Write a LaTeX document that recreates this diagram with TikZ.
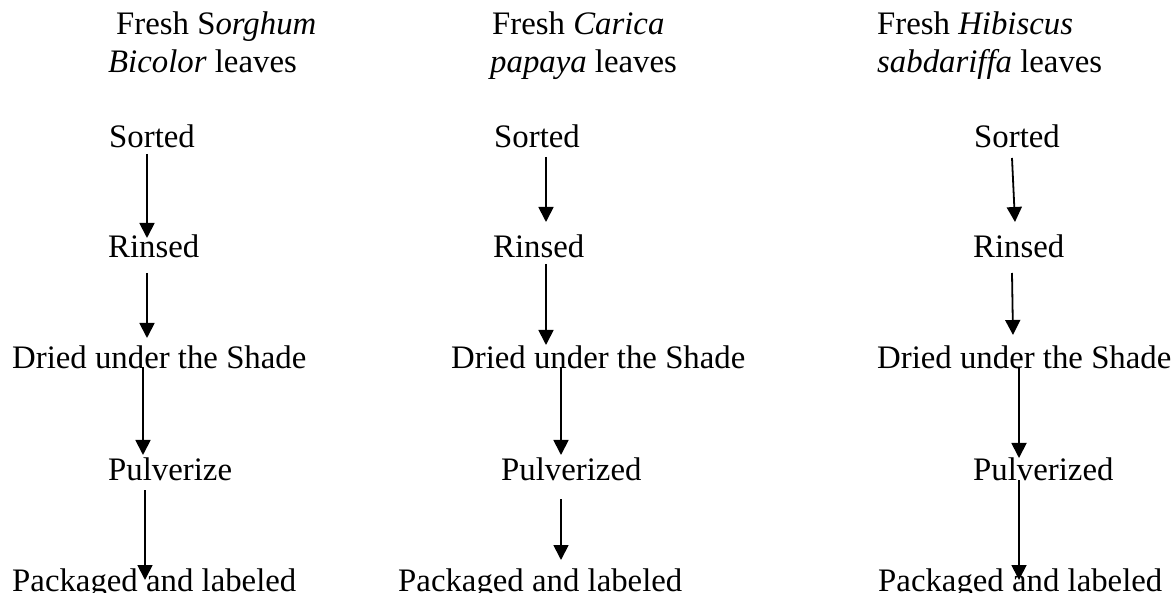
\documentclass[tikz,border=0pt]{standalone}
\usepackage{fontspec}
\setmainfont{Liberation Serif}
\usetikzlibrary{arrows.meta}

\begin{document}
\begin{tikzpicture}[x=1pt, y=-1pt,
    lbl/.style={anchor=base west, inner sep=0pt, font=\fontsize{32.8}{38}\selectfont},
    flow/.style={line width=1.8pt, -{Triangle[width=15pt, length=15pt]}}]
    \useasboundingbox (0,0) rectangle (1173,593);

    % Spalte 1: Sorghum bicolor
    \begin{scope}
        \node[lbl] (h1a) at (116,35) {Fresh S\textit{orghum}};
        \node[lbl] (h1b) at (108,73) {\textit{Bicolor} leaves};
        \node[lbl] (s1) at (109,148) {Sorted};
        \node[lbl] (r1) at (108,258) {Rinsed};
        \node[lbl] (d1) at (12,369) {Dried under the Shade};
        \node[lbl] (p1) at (108,480) {Pulverize};
        \node[lbl] (k1) at (12,591) {Packaged and labeled};

        \draw[flow] ([shift={(38,6)}]s1.base west) -- ([shift={(39,-20)}]r1.base west);
        \draw[flow] ([shift={(39,15)}]r1.base west) -- ([shift={(135,-31)}]d1.base west);
        \draw[flow] ([shift={(131,-2)}]d1.base west) -- ([shift={(35,-25)}]p1.base west);
        \draw[flow] ([shift={(37,10)}]p1.base west) -- ([shift={(133,-11)}]k1.base west);
    \end{scope}

    % Spalte 2: Carica papaya
    \begin{scope}
        \node[lbl] (h2a) at (492,35) {Fresh \textit{Carica}};
        \node[lbl] (h2b) at (490,73) {\textit{papaya} leaves};
        \node[lbl] (s2) at (494,148) {Sorted};
        \node[lbl] (r2) at (493,258) {Rinsed};
        \node[lbl] (d2) at (451,369) {Dried under the Shade};
        \node[lbl] (p2) at (501,480) {Pulverized};
        \node[lbl] (k2) at (398,591) {Packaged and labeled};

        \draw[flow] ([shift={(52,9)}]s2.base west) -- ([shift={(53,-36)}]r2.base west);
        \draw[flow] ([shift={(53,6)}]r2.base west) -- ([shift={(95,-24)}]d2.base west);
        \draw[flow] ([shift={(110,-2)}]d2.base west) -- ([shift={(60,-25)}]p2.base west);
        \draw[flow] ([shift={(60,19)}]p2.base west) -- ([shift={(163,-31)}]k2.base west);
    \end{scope}

    % Spalte 3: Hibiscus sabdariffa
    \begin{scope}
        \node[lbl] (h3a) at (877,35) {Fresh \textit{Hibiscus}};
        \node[lbl] (h3b) at (877,73) {\textit{sabdariffa} leaves};
        \node[lbl] (s3) at (974,148) {Sorted};
        \node[lbl] (r3) at (973,258) {Rinsed};
        \node[lbl] (d3) at (877,369) {Dried under the Shade};
        \node[lbl] (p3) at (973,480) {Pulverized};
        \node[lbl] (k3) at (878,591) {Packaged and labeled};

        \draw[flow] ([shift={(38,10)}]s3.base west) -- ([shift={(42,-36)}]r3.base west);
        \draw[flow] ([shift={(39,15)}]r3.base west) -- ([shift={(136,-34)}]d3.base west);
        \draw[flow] ([shift={(142,-2)}]d3.base west) -- ([shift={(46,-22)}]p3.base west);
        \draw[flow] ([shift={(46,0)}]p3.base west) -- ([shift={(141,-11)}]k3.base west);
    \end{scope}
\end{tikzpicture}
\end{document}
